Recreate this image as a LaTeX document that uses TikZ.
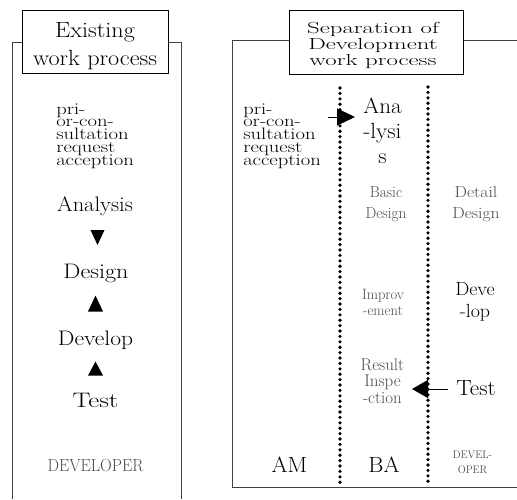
\documentclass[tikz,border=0pt]{standalone}
\usepackage{fontspec}
\usetikzlibrary{arrows.meta}
\newcommand{\fz}[2]{\fontsize{#1}{#2}\selectfont\lineskiplimit=-30pt\relax}
\newcommand{\tn}[6]{%
  \begin{scope}[shift={(#2,#3)}, xscale=#4]
    \node[txt, transform shape, #5] (#1) at (0,0) {#6};
  \end{scope}}
\tikzset{
  txt/.style={inner sep=0pt, align=center, text=black},
  soft/.style={text=black!70},
  frame/.style={draw=black!75, line width=0.9pt},
  tbox/.style={draw=black, line width=0.9pt, fill=white, inner sep=0pt},
  dotmark/.style={fill=black},
  arrA/.style={line width=1pt, -{Triangle[length=18pt,width=17pt]}},
  arrB/.style={line width=1pt, -{Triangle[length=16pt,width=18pt]}},
}
\begin{document}
\begin{tikzpicture}[x=1pt,y=-1pt]
\useasboundingbox (0,0) rectangle (517,499);

% ---------- left panel ----------
\draw[frame] (12,499) -- (12,42) -- (181,42) -- (181,499);
\node[tbox, minimum width=146pt, minimum height=63pt] (ltbox) at (95,41.5) {};
\tn{ltitle}{95}{46}{1.1}{font=\fz{22}{28}}{Existing\\work process}

\tn{lpri}{56}{136}{1.25}{align=left, anchor=west, font=\fz{16.5}{12.8}}
  {pri-\\or-con-\\sultation\\request\\acception}
\tn{lana}{95}{206}{1.07}{font=\fz{21}{21}}{Analysis}
\coordinate (v1) at (97.5,237.5);
\fill (v1) ++(-7,-7.5) -- ++(14,0) -- ++(-7,15) -- cycle;
\tn{ldes}{96}{273}{1.15}{font=\fz{21}{21}}{Design}
\coordinate (v2) at (95.5,303.5);
\fill (v2) ++(-7.5,8) -- ++(15,0) -- ++(-7.5,-16) -- cycle;
\tn{ldev}{95.5}{340}{1.12}{font=\fz{21}{21}}{Develop}
\coordinate (v3) at (95.5,368.5);
\fill (v3) ++(-7.5,7) -- ++(15,0) -- ++(-7.5,-14) -- cycle;
\tn{ltest}{95.5}{400}{1.28}{font=\fz{21}{21}}{Test}
\tn{ldevel}{95.5}{466}{0.93}{soft, font=\fz{17.5}{17}}{DEVELOPER}

% ---------- right panel ----------
\draw[frame] (517,40) -- (232,40) -- (232,487) -- (517,487);
\node[tbox, minimum width=174pt, minimum height=64pt] (rtbox) at (376,42) {};
\tn{rtitle}{373}{45.3}{1.55}{font=\fz{16}{16}}{Separation of\\Development\\work process}

\foreach \k in {0,...,73} {
  \fill[dotmark] (340,{88+5.4*\k}) circle (1.8pt);
  \fill[dotmark] (428,{87+5.4*\k}) circle (1.8pt);
}

\tn{rpri}{243}{136}{1.25}{align=left, anchor=west, font=\fz{16.5}{12.8}}
  {pri-\\or-con-\\sultation\\request\\acception}
\tn{ana}{382.5}{131}{1.05}{font=\fz{22}{25}}{Ana\\-lysi\\s}
\coordinate (a1) at (328,117);
\coordinate (a2) at (355,117);
\draw[arrA] (a1) -- (a2);

\tn{basic}{386}{204}{0.95}{soft, font=\fz{16}{21}}{Basic\\Design}
\tn{detail}{476}{204}{1.1}{soft, font=\fz{16}{21}}{Detail\\Design}
\tn{impr}{383}{302.5}{0.97}{soft, font=\fz{15}{15.5}}{Improv\\-ement}
\tn{deve}{475}{301.7}{1.05}{font=\fz{19}{22}}{Deve\\-lop}
\tn{res}{382.5}{380.7}{1.0}{soft, font=\fz{17}{16.5}}{Result\\Inspe\\-ction}
\tn{rtest}{476}{387.7}{1.05}{font=\fz{22}{22}}{Test}
\coordinate (b1) at (448,389);
\coordinate (b2) at (412,389);
\draw[arrB] (b1) -- (b2);

\tn{am}{289.5}{464.7}{1.05}{font=\fz{22}{22}}{AM}
\tn{ba}{384}{464.7}{1.05}{font=\fz{22}{22}}{BA}
\tn{dvo}{472.5}{462.5}{0.95}{soft, font=\fz{11}{15}}{DEVEL-\\OPER}
\end{tikzpicture}
\end{document}
